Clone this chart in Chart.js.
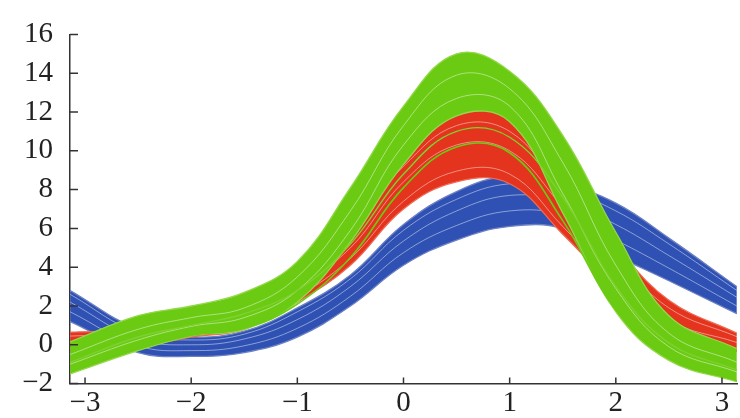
<!DOCTYPE html>
<html>
<head>
<meta charset="utf-8">
<script src="https://cdn.jsdelivr.net/npm/chart.js@4.4.1/dist/chart.umd.min.js"></script>
<style>
  html, body { margin: 0; padding: 0; background: #fff; }
  #wrap { width: 740px; height: 418px; }
</style>
</head>
<body>
<div id="wrap"><canvas id="chart"></canvas></div>
<script>
// sample positions along t (from -pi to pi)
const tValues = [-3.14, -2.5, -2, -1.5, -1, -0.5, 0, 0.5, 1, 1.5, 2, 2.5, 3.14];
const xTicks = [-3, -2, -1, 0, 1, 2, 3];
const yTicks = [-2, 0, 2, 4, 6, 8, 10, 12, 14, 16];

// blue group: lower / upper edge of the band and some curves inside
const blueLow  = [1.2, -0.4, -0.6, -0.4, 0.4, 2.0, 4.1, 5.4, 6.1, 6.0, 4.6, 3.3, 1.6];
const blueHigh = [2.8, 0.8, 0.4, 0.7, 1.9, 3.6, 6.2, 7.9, 8.7, 8.3, 7.3, 5.5, 3.0];
const blueIn1  = [1.7, -0.05, -0.3, -0.05, 0.85, 2.5, 4.75, 6.15, 6.9, 6.7, 5.4, 3.95, 2.0];
const blueIn2  = [2.2, 0.3, 0.0, 0.3, 1.3, 3.0, 5.35, 6.9, 7.7, 7.4, 6.2, 4.6, 2.45];
const blueIn3  = [2.6, 0.6, 0.25, 0.55, 1.7, 3.4, 5.9, 7.5, 8.3, 8.0, 6.9, 5.2, 2.8];

// red group
const redLow  = [-0.35, -0.1, 0.4, 0.8, 2.2, 4.1, 7.0, 8.4, 8.3, 5.7, 2.9, 0.3, -0.35];
const redHigh = [0.65, 0.8, 1.4, 2.1, 3.7, 6.8, 10.0, 12.1, 11.7, 8.5, 5.1, 2.3, 0.6];
const redIn1  = [-0.2, 0.05, 0.55, 1.0, 2.45, 4.45, 7.4, 8.95, 8.8, 6.1, 3.2, 0.6, -0.2];
const redIn2  = [0.15, 0.35, 0.9, 1.45, 2.95, 5.0, 8.4, 10.3, 10.0, 7.1, 4.0, 1.3, 0.12];
const redIn3  = [0.45, 0.6, 1.2, 1.85, 3.4, 6.0, 9.2, 11.3, 11.0, 7.9, 4.6, 1.9, 0.42];

// green group (low = where the band covers the red curves)
const greenLow  = [-1.5, -0.3, 0.45, 0.8, 2.2, 5.3, 9.3, 11.8, 11.5, 6.8, 1.7, -0.8, -1.9];
const greenHigh = [0.15, 1.5, 2.0, 2.7, 4.3, 8.1, 12.3, 15.0, 14.1, 10.8, 5.8, 1.5, -0.2];
const greenIn1  = [-1.0, 0.25, 0.95, 1.4, 2.8, 5.9, 10.3, 12.7, 12.3, 7.8, 2.9, -0.1, -1.4];
const greenIn2  = [-0.5, 0.8, 1.4, 1.9, 3.5, 6.9, 11.3, 13.9, 13.2, 9.4, 4.1, 0.6, -0.9];
// a few green curves that run lower, over the red ones
const greenOut1 = [-1.4, -0.2, 0.5, 0.85, 2.1, 4.5, 8.1, 10.2, 9.9, 6.4, 1.8, -0.7, -1.85];
const greenOut2 = [-0.9, 0.4, 1.0, 1.6, 2.8, 5.2, 8.8, 11.0, 10.7, 7.6, 3.0, 0.1, -1.3];

const blue = '#2f51b3', red = '#e4341e', green = '#6acb12';

function curve(values) {
  return tValues.map((t, i) => ({ x: t, y: values[i] }));
}

// band = low line + high line filled down to it, then light streaks inside
function band(low, high, inner, color, edge, base) {
  let sets = [];
  sets.push({ data: curve(low), borderColor: edge, borderWidth: 1.3, fill: false, order: base - 1 });
  sets.push({ data: curve(high), borderColor: edge, borderWidth: 1.3, backgroundColor: color, fill: '-1', order: base });
  inner.forEach((vals, k) => {
    sets.push({ data: curve(vals), borderColor: 'rgba(255,255,255,0.45)', borderWidth: 1, fill: false, order: base - 2 - k });
  });
  return sets;
}

const datasets = []
  .concat(band(blueLow, blueHigh, [blueIn1, blueIn2, blueIn3], blue, '#6c80c4', 30))
  .concat(band(redLow, redHigh, [redIn1, redIn2, redIn3], red, '#ee6a55', 20))
  .concat(band(greenLow, greenHigh, [greenIn1, greenIn2], green, '#93d84a', 10))
  .concat([
    { data: curve(greenOut1), borderColor: green, borderWidth: 1.6, fill: false, order: 2 },
    { data: curve(greenOut2), borderColor: '#7fd030', borderWidth: 1.4, fill: false, order: 1 }
  ]);

const minus = v => String(v).replace('-', '\u2212');

// small tick marks pointing into the plot
const innerTicks = {
  id: 'innerTicks',
  afterDraw(chart) {
    const ctx = chart.ctx;
    const xs = chart.scales.x, ys = chart.scales.y;
    ctx.save();
    ctx.strokeStyle = '#333';
    ctx.lineWidth = 1.5;
    ctx.beginPath();
    xTicks.forEach(v => {
      const px = xs.getPixelForValue(v);
      ctx.moveTo(px, ys.bottom);
      ctx.lineTo(px, ys.bottom - 6);
    });
    yTicks.forEach(v => {
      const py = ys.getPixelForValue(v);
      ctx.moveTo(xs.left, py);
      ctx.lineTo(xs.left + 8, py);
    });
    ctx.stroke();
    ctx.restore();
  }
};

const tickFont = { family: "'Liberation Serif', 'DejaVu Serif', serif", size: 29 };

new Chart(document.getElementById('chart'), {
  type: 'line',
  data: { datasets: datasets },
  options: {
    responsive: true,
    maintainAspectRatio: false,
    animation: false,
    layout: { padding: { top: 31, right: 3, left: 0, bottom: 0 } },
    elements: {
      point: { radius: 0 },
      line: { tension: 0.4 }
    },
    plugins: {
      legend: { display: false },
      tooltip: { enabled: false }
    },
    scales: {
      x: {
        type: 'linear',
        min: -Math.PI,
        max: Math.PI,
        afterBuildTicks: scale => { scale.ticks = xTicks.map(v => ({ value: v })); },
        afterFit: scale => { scale.height = 30; },
        grid: { display: true, drawOnChartArea: false, drawTicks: false },
        border: { display: true, color: '#333', width: 1.5 },
        ticks: { font: tickFont, color: '#222', padding: 2, maxRotation: 0, callback: minus }
      },
      y: {
        min: -2,
        max: 16,
        afterBuildTicks: scale => { scale.ticks = yTicks.map(v => ({ value: v })); },
        afterFit: scale => { scale.width = 70; },
        grid: { display: true, drawOnChartArea: false, drawTicks: false },
        border: { display: true, color: '#333', width: 1.5 },
        ticks: { font: tickFont, color: '#222', padding: 17, callback: minus }
      }
    }
  },
  plugins: [innerTicks]
});
</script>
</body>
</html>
